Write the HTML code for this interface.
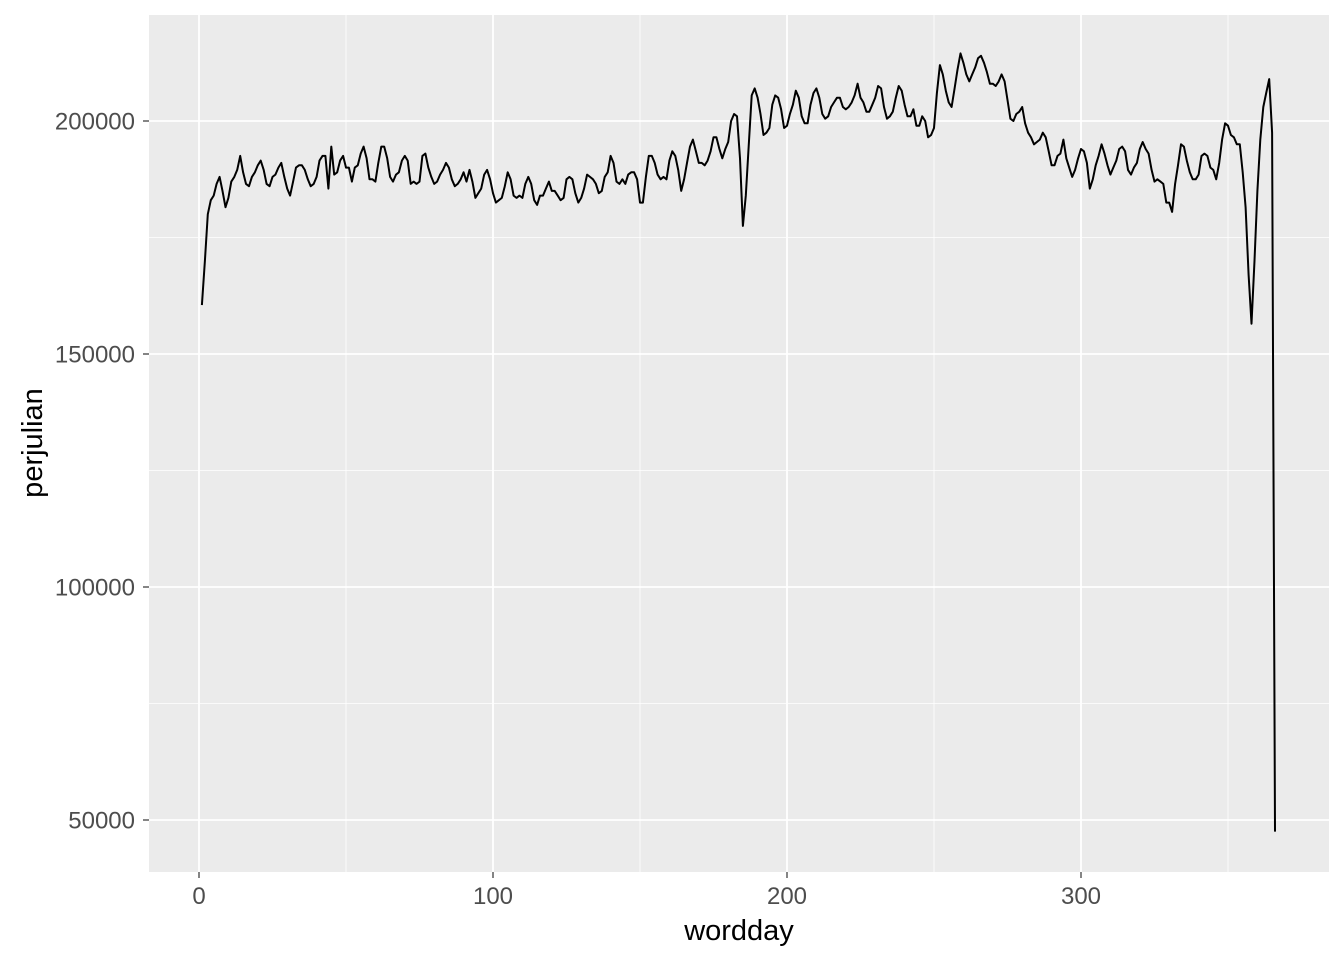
<!DOCTYPE html>
<html><head><meta charset="utf-8"><style>
body{margin:0;background:#fff;}
svg text{font-family:"Liberation Sans",Arial,sans-serif;}
</style></head><body>
<svg id="chart" width="1344" height="960">
<rect x="149" y="15" width="1180" height="857" fill="#ebebeb"/>
<g id="grid"></g><g id="axes"></g><path id="line" fill="none" stroke="#000" stroke-width="2" stroke-linejoin="round"/>
<text x="739" y="940" text-anchor="middle" font-size="29" fill="#000">wordday</text>
<text transform="translate(42,443) rotate(-90)" text-anchor="middle" font-size="29" fill="#000">perjulian</text>
</svg>
<script>
const xTicks=[0,100,200,300];
const xMinor=[50,150,250,350];
const yTicks=[50000,100000,150000,200000];
const yMinor=[75000,125000,175000];
const values=[160.5,170,180,183,184,186.5,188,185,181.5,183.5,187,188,189.5,192.5,189,186.5,186,188,189,190.5,191.5,189.5,186.5,186,188,188.5,190,191,188,185.5,184,187,190,190.5,190.5,189.5,187.5,186,186.5,188,191.5,192.5,192.5,185.5,194.5,188.5,189,191.5,192.5,190,190,187,190,190.5,193,194.5,192,187.5,187.5,187,191,194.5,194.5,192,188,187,188.5,189,191.5,192.5,191.5,186.5,187,186.5,187,192.5,193,190,188,186.5,187,188.5,189.5,191,190,187.5,186,186.5,187.5,189,187,189.5,187,183.5,184.5,185.5,188.5,189.5,187.5,184.5,182.5,183,183.5,186,189,187.5,184,183.5,184,183.5,186.5,188,186.5,183,182,184,184,185.5,187,185,185,184,183,183.5,187.5,188,187.5,184.5,182.5,183.5,185.5,188.5,188,187.5,186.5,184.5,185,188,189,192.5,191,187,186.5,187.5,186.5,188.5,189,189,187.5,182.5,182.5,188,192.5,192.5,191,188.5,187.5,188,187.5,191.5,193.5,192.5,189.5,185,187.5,191,194.5,196,193.5,191,191,190.5,191.5,193.5,196.5,196.5,194,192,194,195.5,200,201.5,201,192,177.5,184,195,205.5,207,205,201.5,197,197.5,198.5,203.5,205.5,205,202.5,198.5,199,201.5,203.5,206.5,205,201,199.5,199.5,203.5,206,207,205,201.5,200.5,201,203,204,205,205,203,202.5,203,204,205.5,208,205,204,202,202,203.5,205,207.5,207,203,200.5,201,202,205,207.5,206.5,203.5,201,201,202.5,199,199,201,200,196.5,197,198.5,206,212,210,206.5,204,203,207,211,214.5,212.5,210,208.5,210,211.5,213.5,214,212.5,210.5,208,208,207.5,208.5,210,208.5,204.5,200.5,200,201.5,202,203,199.5,197.5,196.5,195,195.5,196,197.5,196.5,193.5,190.5,190.5,192.5,193,196,192,190,188,189.5,192,194,193.5,191,185.5,187.5,190.5,192.5,195,193,190.5,188.5,190,191.5,194,194.5,193.5,189.5,188.5,190,191,194,195.5,194,193,189.5,187,187.5,187,186.5,182.5,182.5,180.5,186.5,190.5,195,194.5,191.5,189,187.5,187.5,188.5,192.5,193,192.5,190,189.5,187.5,191,196,199.5,199,197,196.5,195,195,189,181.5,167,156.5,170,185,196,203,206,209,197.5,47.5];
const X=d=>199+d*2.94;
const Y=v=>121+(200000-v)/1000*4.66;
const ns="http://www.w3.org/2000/svg";
const grid=document.getElementById('grid'),axes=document.getElementById('axes');
function mk(tag,attrs,parent){const e=document.createElementNS(ns,tag);for(const k in attrs)e.setAttribute(k,attrs[k]);parent.appendChild(e);return e;}
yMinor.forEach(v=>{const l=mk('line',{x1:149,x2:1329,y1:Y(v),y2:Y(v),stroke:'#fff','stroke-width':0.8},grid);

});
xMinor.forEach(v=>{const l=mk('line',{x1:X(v),x2:X(v),y1:15,y2:872,stroke:'#fff','stroke-width':0.8},grid);

});
yTicks.forEach(v=>{const l=mk('line',{x1:149,x2:1329,y1:Y(v),y2:Y(v),stroke:'#fff','stroke-width':1.8},grid);


const t=mk('line',{x1:143,x2:149,y1:Y(v),y2:Y(v),stroke:'#333','stroke-width':1.2},axes);


const tx=mk('text',{x:135,y:Y(v)+8.5,'text-anchor':'end','font-size':24,fill:'#4d4d4d'},axes);tx.textContent=v;

});
xTicks.forEach(v=>{const l=mk('line',{x1:X(v),x2:X(v),y1:15,y2:872,stroke:'#fff','stroke-width':1.8},grid);


const t=mk('line',{x1:X(v),x2:X(v),y1:872,y2:878,stroke:'#333','stroke-width':1.2},axes);


const tx=mk('text',{x:X(v),y:904,'text-anchor':'middle','font-size':24,fill:'#4d4d4d'},axes);tx.textContent=v;

});
document.getElementById('line').setAttribute('d',values.map((v,i)=>(i?'L':'M')+X(i+1).toFixed(1)+','+Y(v*1000).toFixed(1)).join(''));
</script>
</body></html>
